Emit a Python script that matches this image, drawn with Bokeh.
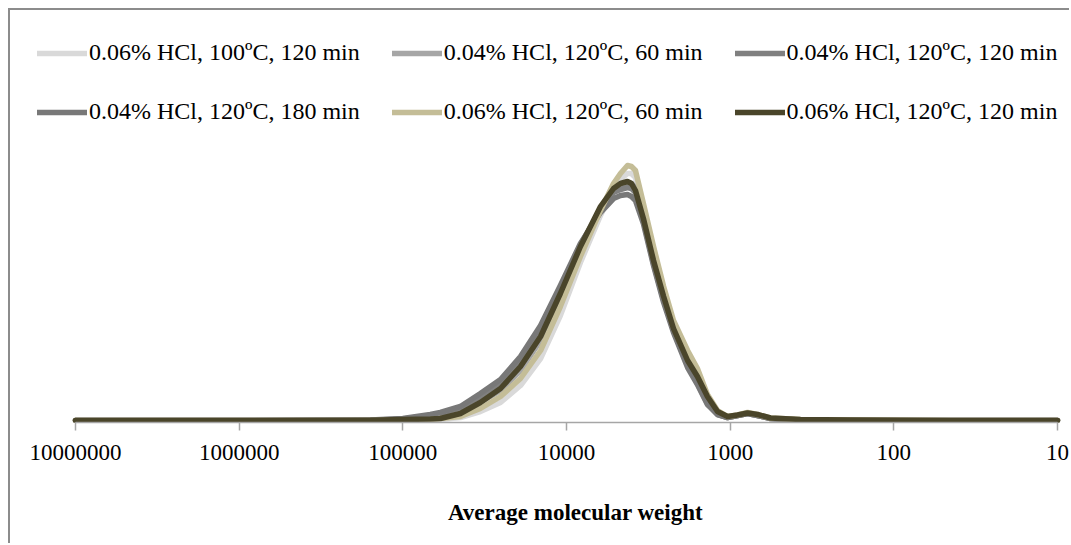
import math
from bokeh.plotting import figure
from bokeh.models import Range1d, FixedTicker, Legend, LegendItem
from bokeh.embed import file_html
from bokeh.resources import INLINE

# ---------------- data ----------------
mw = [10000000, 1000000, 158000, 100000, 68000, 59000, 44500, 33600, 25300, 19100,
      14400, 10900, 8220, 6200, 5160, 4680, 4240, 4010, 3790, 3390, 2940, 2550,
      2220, 1820, 1585, 1377, 1195, 1038, 901, 783, 680, 567,
      372, 184, 91, 45, 22, 10]

s1 = [0, 0, 0, 0.3, 0.5, 1, 3, 9, 18, 35, 62, 105, 158, 205, 232, 241, 247, 247, 243, 212, 168, 128,
      95, 62, 44, 22, 8, 3, 5, 7, 5, 2, 0.5, 0, -1, -1.5, -0.5, 0]
s2 = [0, 0, 0.2, 1, 3, 4, 8, 18, 30, 50, 80, 124, 172, 212, 230, 235, 238, 237, 233, 208, 163, 124,
      94, 58, 41, 20, 7, 3, 5, 7, 5, 2, 0.5, 0.3, 0, 0, 0, 0]
s3 = [0, 0, 0.3, 1.5, 5, 7, 13, 24, 37, 59, 90, 131, 176, 211, 228, 231, 233, 232, 228, 200, 157, 120,
      90, 55, 37, 17, 6, 3, 5, 7, 5, 2, 0.5, 0.3, 0, 0, 0, 0]
s4 = [0, 0, 0.5, 2, 6, 8, 14, 27, 41, 64, 95, 135, 177, 208, 222, 225, 226, 224, 220, 197, 155, 118,
      88, 53, 36, 16, 6, 3, 5, 7, 5, 2, 0.5, 0.3, 0, 0, 0, 0]
s5 = [0, 0, 0, 0.5, 1, 2, 4, 12, 24, 42, 70, 114, 164, 210, 237, 247, 255, 254, 250, 217, 174, 134,
      100, 70, 52, 26, 10, 4, 5.5, 8, 6, 2.5, 1, 0.5, 0.3, 0, 0, 0]
s6 = [0, 0, 0.3, 1, 1.5, 2, 7, 18, 32, 54, 84, 127, 174, 214, 232, 237, 239, 237, 230, 202, 160, 124,
      92, 60, 44, 24, 9, 4, 5.5, 7.5, 6, 2.5, 1, 0.5, 0.3, 0, 0, 0]

series = [s1, s2, s3, s4, s5, s6]
labels = ["0.06% HCl, 100ºC, 120 min", "0.04% HCl, 120ºC, 60 min", "0.04% HCl, 120ºC, 120 min",
          "0.04% HCl, 120ºC, 180 min", "0.06% HCl, 120ºC, 60 min", "0.06% HCl, 120ºC, 120 min"]
colors = ["#d9d9d9", "#a6a6a6", "#808080", "#787878", "#c4bd97", "#4a452a"]

tick_values = [10000000, 1000000, 100000, 10000, 1000, 100, 10]
tick_labels = ["10000000", "1000000", "100000", "10000", "1000", "100", "10"]
x_title = "Average molecular weight"

# ---------------- layout ----------------
W, H = 1061, 535
frame_left_offset = 65      # px from frame left to the first decade
frame_right_offset = 14     # px from the last decade to frame right
px_per_dec = (W - frame_left_offset - frame_right_offset) / 6.0
x_start = 10 ** (7 + frame_left_offset / px_per_dec)
x_end = 10 ** (1 - frame_right_offset / px_per_dec)

p = figure(width=W, height=H, x_axis_type="log",
           x_range=Range1d(x_start, x_end), y_range=Range1d(-2, 410),
           output_backend="svg", toolbar_location=None, y_axis_location=None,
           min_border_left=0, min_border_right=0, min_border_top=0, min_border_bottom=123)
p.styles = {"margin-left": "8px", "margin-top": "8px",
            "border-left": "2px solid #8c8c8c", "border-top": "2px solid #8c8c8c"}
p.outline_line_color = None
p.xgrid.visible = False
p.ygrid.visible = False
p.background_fill_color = "white"
p.border_fill_color = "white"

items = []
for ys, lab, col in zip(series, labels, colors):
    r = p.line(mw, ys, line_color=col, line_width=5.5, line_join="round", line_cap="round")
    items.append(LegendItem(label=lab, renderers=[r]))

ax = p.xaxis[0]
ax.ticker = FixedTicker(ticks=tick_values)
ax.major_label_overrides = {v: l for v, l in zip(tick_values, tick_labels)}
ax.bounds = (10, 10000000)
ax.axis_line_color = "#a6a6a6"
ax.axis_line_width = 1.5
ax.major_tick_line_color = "#a6a6a6"
ax.major_tick_line_width = 1.5
ax.major_tick_in = 0
ax.major_tick_out = 8
ax.minor_tick_line_color = None
ax.major_label_text_font = "Liberation Serif"
ax.major_label_text_font_size = "23px"
ax.major_label_text_color = "black"
ax.major_label_standoff = 14
# leading no-break spaces shift the centred title over the data span
ax.axis_label = "\u00a0" * 12 + x_title
ax.axis_label_text_font = "Liberation Serif"
ax.axis_label_text_font_style = "bold"
ax.axis_label_text_font_size = "23px"
ax.axis_label_text_color = "black"
ax.axis_label_standoff = 37

legend = Legend(items=items, location=(27, 297), orientation="horizontal", ncols=3,
                glyph_width=50, glyph_height=26, label_height=26, label_standoff=2,
                spacing=32, padding=0, margin=0, border_line_color=None,
                background_fill_alpha=0, label_text_font="Liberation Serif",
                label_text_font_size="24px", label_text_color="black")
p.add_layout(legend)

open("out.html", "w").write(file_html(p, INLINE))
